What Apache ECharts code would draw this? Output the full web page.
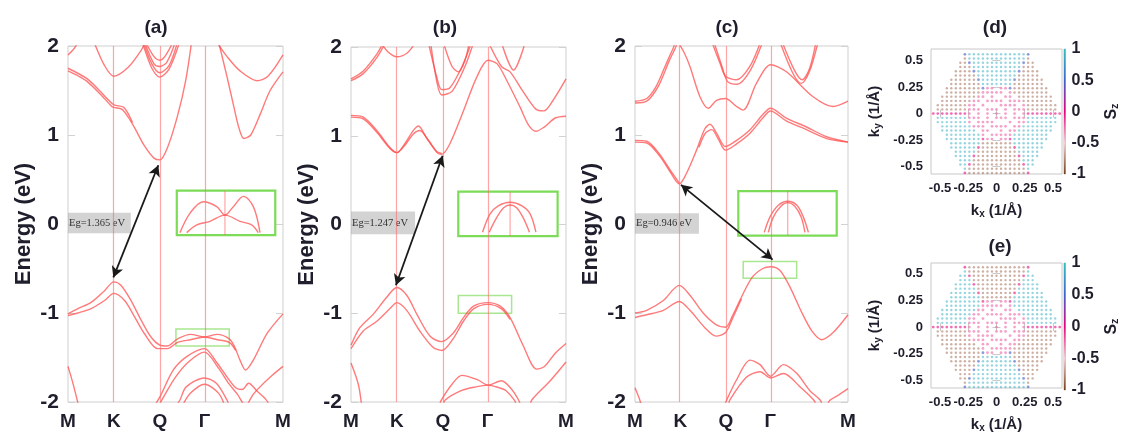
<!DOCTYPE html>
<html><head><meta charset="utf-8">
<script src="https://cdn.jsdelivr.net/npm/echarts@6/dist/echarts.min.js"></script>
<style>html,body{margin:0;padding:0;background:#fff}#c{width:1121px;height:434px}</style>
</head><body><div id="c"></div>
<script>
// ---------- data ----------
const kPos = [0, 0.213, 0.427, 0.635, 1];
const kLabels = ['M', 'K', 'Q', 'Γ', 'M'];
const panelTitles = ['(a)', '(b)', '(c)', '(d)', '(e)'];
const gapLabels = ['Eg=1.365 eV', 'Eg=1.247 eV', 'Eg=0.946 eV'];
const kTicks2D = [-0.5, -0.25, 0, 0.25, 0.5];
const szTicks = [-1, -0.5, 0, 0.5, 1];

const bandsA = [
  [[0,1.72],[0.05,1.66],[0.09,1.6],[0.154,1.45],[0.2,1.33],[0.213,1.31],[0.25,1.29],[0.28,1.2],[0.31,1.08],[0.355,0.88],[0.40,0.74],[0.427,0.72],[0.463,0.86],[0.51,1.22],[0.548,1.62],[0.575,2.05]],
  [[0,1.75],[0.09,1.63],[0.154,1.48],[0.213,1.34],[0.26,1.31],[0.30,1.14]],
  [[0.12,2.05],[0.17,1.78],[0.213,1.66],[0.28,1.76],[0.34,1.95],[0.36,2.05]],
  [[0,1.9],[0.025,1.96],[0.05,2.05]],
  [[0.36,2.05],[0.40,1.88],[0.427,1.84],[0.45,1.88],[0.49,2.05]],
  [[0.355,2.05],[0.40,1.80],[0.427,1.77],[0.46,1.82],[0.50,2.05]],
  [[0.35,2.05],[0.39,1.80],[0.427,1.70],[0.47,1.78],[0.51,2.05]],
  [[0.345,2.05],[0.39,1.75],[0.427,1.65],[0.47,1.74],[0.52,2.05]],
  [[0.70,2.05],[0.74,1.65],[0.772,1.31],[0.795,1.08],[0.818,0.96],[0.85,1.0],[0.895,1.24],[0.94,1.5],[1.0,1.71]],
  [[0.69,2.05],[0.74,1.88],[0.80,1.72],[0.88,1.61],[0.93,1.66],[1.0,1.9]],
  [[0,-1.01],[0.046,-0.95],[0.108,-0.88],[0.17,-0.75],[0.213,-0.65],[0.247,-0.69],[0.293,-0.86],[0.34,-1.08],[0.386,-1.27],[0.427,-1.36],[0.463,-1.37],[0.51,-1.29],[0.57,-1.24],[0.635,-1.27],[0.694,-1.24],[0.75,-1.29],[0.775,-1.38],[0.80,-1.53],[0.826,-1.64],[0.864,-1.52],[0.926,-1.23],[1.0,-1.01]],
  [[0,-1.03],[0.046,-1.0],[0.108,-0.95],[0.17,-0.86],[0.213,-0.78],[0.263,-0.86],[0.309,-1.04],[0.355,-1.23],[0.417,-1.40],[0.463,-1.40],[0.51,-1.33],[0.57,-1.30],[0.635,-1.27],[0.694,-1.30],[0.75,-1.33],[0.78,-1.42]],
  [[0.40,-2.05],[0.428,-1.94],[0.49,-1.64],[0.552,-1.49],[0.635,-1.40],[0.69,-1.55],[0.74,-1.72],[0.78,-1.84],[0.81,-1.86],[0.84,-1.79],[0.88,-1.88],[0.92,-1.97],[0.94,-2.05]],
  [[0.42,-2.05],[0.45,-1.92],[0.50,-1.72],[0.56,-1.55],[0.635,-1.44],[0.70,-1.62],[0.75,-1.80],[0.79,-1.92],[0.81,-2.0],[0.83,-2.05]],
  [[0.50,-2.05],[0.52,-1.98],[0.55,-1.83],[0.635,-1.73],[0.69,-1.79],[0.74,-1.98],[0.75,-2.05]],
  [[0.53,-2.05],[0.57,-1.9],[0.635,-1.80],[0.70,-1.9],[0.73,-2.05]],
  [[0,-1.60],[0.023,-1.79],[0.045,-2.0],[0.05,-2.05]],
  [[1.0,-1.60],[0.95,-1.70],[0.893,-1.83],[0.86,-1.92],[0.83,-2.05]]
];
const insetA = [
  [[0.521,-0.097],[0.567,0.12],[0.629,0.25],[0.692,0.195],[0.730,0.10],[0.769,0.195],[0.816,0.31],[0.862,0.195],[0.893,-0.097]],
  [[0.552,-0.097],[0.599,-0.01],[0.66,0.03],[0.730,0.10],[0.80,0.03],[0.854,-0.01],[0.885,-0.097]]
];

const bandsB = [
  [[0,1.23],[0.057,1.21],[0.12,1.06],[0.18,0.87],[0.213,0.81],[0.25,0.91],[0.29,1.06],[0.314,1.11],[0.35,0.98],[0.40,0.81],[0.422,0.79],[0.46,0.91],[0.523,1.28],[0.585,1.66],[0.637,1.85],[0.68,1.81],[0.725,1.62],[0.787,1.32],[0.826,1.12],[0.86,1.05],[0.9,1.10],[0.95,1.2],[1.0,1.22]],
  [[0,1.21],[0.057,1.19],[0.12,1.04],[0.18,0.86],[0.213,0.81],[0.25,0.89],[0.29,1.02],[0.32,1.06],[0.36,0.95],[0.40,0.82],[0.422,0.80]],
  [[0,1.64],[0.057,1.73],[0.12,1.92],[0.15,2.05]],
  [[0,1.62],[0.057,1.70],[0.12,1.88],[0.16,2.05]],
  [[0.14,2.05],[0.17,1.95],[0.213,1.89],[0.26,1.93],[0.30,2.05]],
  [[0.36,2.05],[0.40,1.65],[0.422,1.52],[0.46,1.54],[0.52,1.80],[0.56,2.05]],
  [[0.37,2.05],[0.40,1.60],[0.422,1.46],[0.47,1.50],[0.53,1.78],[0.57,2.05]],
  [[0.43,2.05],[0.47,1.78],[0.5,1.72],[0.53,1.85],[0.55,2.05]],
  [[0.64,2.05],[0.70,1.78],[0.74,1.72],[0.80,1.5],[0.86,1.30],[0.896,1.28],[0.94,1.40],[1.0,1.64]],
  [[0.70,2.05],[0.756,1.74],[0.81,2.05]],
  [[0,-1.36],[0.042,-1.16],[0.104,-1.01],[0.166,-0.82],[0.213,-0.71],[0.26,-0.80],[0.306,-1.01],[0.368,-1.26],[0.422,-1.32],[0.477,-1.22],[0.523,-1.05],[0.57,-0.92],[0.637,-0.88],[0.694,-0.92],[0.74,-1.05],[0.80,-1.36],[0.864,-1.63],[0.9,-1.6],[0.95,-1.45],[1.0,-1.34]],
  [[0,-1.40],[0.057,-1.2],[0.12,-1.09],[0.18,-0.95],[0.213,-0.88],[0.26,-0.97],[0.32,-1.2],[0.38,-1.38],[0.422,-1.42],[0.477,-1.28],[0.523,-1.09],[0.57,-0.95],[0.637,-0.90],[0.70,-0.95],[0.74,-1.07]],
  [[0.41,-2.05],[0.42,-1.98],[0.47,-1.80],[0.515,-1.70],[0.59,-1.75],[0.637,-1.81],[0.70,-1.76],[0.745,-1.85],[0.78,-1.98],[0.79,-2.05]],
  [[0.43,-2.05],[0.437,-1.98],[0.515,-1.87],[0.58,-1.83],[0.637,-1.81],[0.69,-1.84],[0.72,-1.87],[0.76,-1.98],[0.77,-2.05]],
  [[0,-1.56],[0.034,-1.80],[0.05,-2.05]],
  [[1.0,-1.55],[0.927,-1.76],[0.84,-1.98],[0.835,-2.05]]
];
const insetB = [
  [[0.612,-0.087],[0.647,0.12],[0.685,0.21],[0.74,0.25],[0.795,0.21],[0.833,0.12],[0.86,-0.087]],
  [[0.643,-0.087],[0.678,0.08],[0.71,0.19],[0.74,0.22],[0.77,0.19],[0.80,0.08],[0.83,-0.087]]
];

const bandsC = [
  [[0,0.92],[0.055,0.91],[0.117,0.76],[0.164,0.59],[0.208,0.45],[0.242,0.57],[0.289,0.83],[0.328,1.07],[0.352,1.12],[0.383,1.02],[0.425,0.87],[0.477,0.94],[0.54,1.06],[0.60,1.23],[0.636,1.30],[0.71,1.19],[0.805,1.09],[0.90,0.98],[1.0,0.92]],
  [[0,0.94],[0.055,0.93],[0.117,0.78],[0.164,0.61],[0.208,0.46]],
  [[0.30,0.86],[0.33,1.02],[0.36,1.06],[0.39,0.96],[0.425,0.83],[0.477,0.90],[0.54,1.02],[0.60,1.19],[0.636,1.27],[0.71,1.16],[0.805,1.06],[0.9,0.96],[1.0,0.92]],
  [[0,1.38],[0.055,1.41],[0.10,1.55],[0.148,1.81],[0.18,1.98],[0.19,2.05]],
  [[0,1.36],[0.055,1.38],[0.11,1.55],[0.16,1.83],[0.19,1.98],[0.2,2.05]],
  [[0.2,2.05],[0.23,1.93],[0.258,1.77],[0.305,1.43],[0.344,1.30],[0.383,1.39],[0.425,1.41],[0.477,1.32],[0.508,1.28],[0.57,1.58],[0.636,1.79],[0.711,1.71],[0.836,1.43],[0.93,1.32],[1.0,1.38]],
  [[0.36,2.05],[0.40,1.80],[0.425,1.66],[0.477,1.62],[0.539,1.77],[0.59,2.05]],
  [[0.37,2.05],[0.41,1.76],[0.435,1.60],[0.48,1.57],[0.54,1.72],[0.60,2.05]],
  [[0.68,2.05],[0.74,1.70],[0.78,1.58],[0.82,1.72],[0.86,2.05]],
  [[0.69,2.05],[0.75,1.72],[0.785,1.62],[0.82,1.75],[0.85,2.05]],
  [[0,-1.0],[0.055,-0.97],[0.133,-0.86],[0.208,-0.69],[0.258,-0.80],[0.32,-1.0],[0.38,-1.13],[0.425,-1.16],[0.46,-1.02],[0.50,-0.82],[0.55,-0.60],[0.60,-0.50],[0.636,-0.48],[0.68,-0.52],[0.73,-0.72],[0.78,-0.98],[0.83,-1.20],[0.877,-1.30],[0.93,-1.22],[1.0,-1.02]],
  [[0,-1.05],[0.055,-1.02],[0.133,-0.97],[0.208,-0.87],[0.258,-0.97],[0.33,-1.17],[0.38,-1.26],[0.425,-1.22],[0.46,-1.05],[0.50,-0.84]],
  [[0.42,-2.05],[0.43,-1.98],[0.477,-1.75],[0.54,-1.53],[0.587,-1.58],[0.636,-1.71],[0.697,-1.58],[0.76,-1.68],[0.82,-1.87],[0.87,-1.98],[0.88,-2.05]],
  [[0.44,-2.05],[0.445,-1.98],[0.524,-1.72],[0.587,-1.66],[0.636,-1.73],[0.697,-1.68],[0.775,-1.83],[0.84,-1.98],[0.85,-2.05]],
  [[0,-1.84],[0.023,-1.98],[0.03,-2.05]],
  [[1.0,-1.85],[0.95,-1.93],[0.915,-1.98],[0.9,-2.05]]
];
const insetC = [
  [[0.607,-0.094],[0.634,0.08],[0.673,0.21],[0.717,0.255],[0.76,0.21],[0.79,0.08],[0.814,-0.094]],
  [[0.626,-0.094],[0.65,0.08],[0.685,0.20],[0.717,0.24],[0.75,0.20],[0.78,0.08],[0.798,-0.094]]
];

const insetLineK = [0.730, 0.74, 0.717];
const bigBoxes = [[[0.506,0.374],[0.964,-0.124]], [[0.499,0.37],[0.961,-0.13]], [[0.485,0.37],[0.947,-0.13]]];
const smallBoxes = [[[0.502,-1.18],[0.75,-1.37]], [[0.499,-0.80],[0.747,-1.0]], [[0.508,-0.42],[0.759,-0.61]]];
const arrows = [[[0.211,-0.60],[0.42,0.66]], [[0.209,-0.685],[0.426,0.775]], [[0.216,0.44],[0.646,-0.40]]];
const egBoxes = [[[0,0.127],[0.292,-0.105]], [[0,0.146],[0.298,-0.11]], [[0,0.12],[0.30,-0.11]]];

// spin texture maps (rows from ky=+0.56 down to -0.56, columns kx=-0.56..0.56, step 0.04)
const meshStart = -0.56, meshStep = 0.04;
const szCode = { c: 0.9, b: -0.85, p: -0.25, u: 0.45, m: -0.05 };
const spinMapD = [
  ".......ucccccccccccccu.......",
  ".......bcccccccccccccb.......",
  "......bbucccccccccccubb......",
  "......bbbcccccccccccbbb......",
  ".....bbbbucccccccccubbbb.....",
  ".....bbbbbcccccccccbbbbb.....",
  "....bbbbbbucccccccubbbbbb....",
  "....bbbbbbbcccccccbbbbbbb....",
  "...bbbbbbbbupp.ppubbbbbbbb...",
  "...bbbbbbbbppppp.pbbbbbbbb...",
  "..bbbbbbbbpp.p..pp.bbbbbbbb..",
  "..bbbbbbbpp.pppp.pppbbbbbbb..",
  ".bbbbbbbpp.p...pppp.pbbbbbbb.",
  ".bbbbbbbppp.ppp.p.pppbbbbbbb.",
  "mmmmmmmmp.p.p.p.p.p.pmmmmmmmm",
  ".cccccccppp.p.ppp.pppccccccc.",
  ".cccccccp.pppp...p.ppccccccc.",
  "..cccccccppp.pppp.ppccccccc..",
  "..cccccccc.pp..p.ppcccccccc..",
  "...ccccccccp.pppppcccccccc...",
  "...ccccccccmpp.ppmcccccccc...",
  "....cccccccbbbbbbbccccccc....",
  "....ccccccmbbbbbbbmcccccc....",
  ".....cccccbbbbbbbbbccccc.....",
  ".....ccccmbbbbbbbbbmcccc.....",
  "......cccbbbbbbbbbbbccc......",
  "......ccmbbbbbbbbbbbmcc......",
  ".......cbbbbbbbbbbbbbc.......",
  ".......mbbbbbbbbbbbbbm......."
];
const spinMapE = [
  ".......mbbbbbbbbbbbbbm.......",
  ".......cbbbbbbbbbbbbbc.......",
  "......ccmbbbbbbbbbbbmcc......",
  "......cccbbbbbbbbbbbccc......",
  ".....ccccmbbbbbbbbbmcccc.....",
  ".....cccccbbbbbbbbbccccc.....",
  "....ccccccmbbbbbbbmcccccc....",
  "....cccccccbbbbbbbccccccc....",
  "...ccccccccmpp.ppmcccccccc...",
  "...ccccccccppppp.pcccccccc...",
  "..ccccccccpp.p..pp.cccccccc..",
  "..cccccccpp.pppp.pppccccccc..",
  ".cccccccpp.p...pppp.pccccccc.",
  ".cccccccppp.ppp.p.pppccccccc.",
  "mmmmmmmmp.p.p.p.p.p.pmmmmmmmm",
  ".bbbbbbbppp.p.ppp.pppbbbbbbb.",
  ".bbbbbbbp.pppp...p.ppbbbbbbb.",
  "..bbbbbbbppp.pppp.ppbbbbbbb..",
  "..bbbbbbbb.pp..p.ppbbbbbbbb..",
  "...bbbbbbbbp.pppppbbbbbbbb...",
  "...bbbbbbbbupp.ppubbbbbbbb...",
  "....bbbbbbbcccccccbbbbbbb....",
  "....bbbbbbucccccccubbbbbb....",
  ".....bbbbbcccccccccbbbbb.....",
  ".....bbbbucccccccccubbbb.....",
  "......bbbcccccccccccbbb......",
  "......bbucccccccccccubb......",
  ".......bcccccccccccccb.......",
  ".......ucccccccccccccu......."
];
const szColors = ['#7a3b14', '#f6d2d6', '#e5007d', '#3b63d1', '#35c2bd'];

// ---------- styling ----------
const FONT = "'Liberation Sans', Arial, Helvetica, sans-serif";
const TXT = '#1e1e2c';
const bandColor = 'rgba(255,70,70,0.72)';
const vColor = 'rgba(255,105,105,0.6)';

const bandGrids = [
  { left: 68, top: 46, width: 215, height: 356 },
  { left: 351, top: 47, width: 215, height: 355 },
  { left: 635, top: 46, width: 213, height: 356 }
];
const allBands = [bandsA, bandsB, bandsC];
const allInsets = [insetA, insetB, insetC];

const grid = [], xAxis = [], yAxis = [], series = [];

function nearestLabel(v) {
  let bi = 0, bd = 1e9;
  kPos.forEach((k, i) => { const d = Math.abs(k - v); if (d < bd) { bd = d; bi = i; } });
  return kLabels[bi];
}

for (let p = 0; p < 3; p++) {
  grid.push(Object.assign({ show: true, borderColor: '#cfcfcf', borderWidth: 1, backgroundColor: '#fff' }, bandGrids[p]));
  xAxis.push({
    gridIndex: p, type: 'value', min: 0, max: 1,
    axisLine: { show: false }, axisTick: { show: false }, splitLine: { show: false },
    axisLabel: { customValues: kPos, formatter: nearestLabel, fontSize: 19, fontWeight: 'bold', fontFamily: FONT, color: TXT, margin: 10 }
  });
  const yl = yAxis.length;
  yAxis.push({
    gridIndex: p, type: 'value', min: -2, max: 2, interval: 1, position: 'left',
    name: 'Energy (eV)', nameLocation: 'middle', nameGap: 33,
    nameTextStyle: { fontSize: 22, fontWeight: 'bold', fontFamily: FONT, color: TXT },
    axisLine: { show: false }, splitLine: { show: false },
    axisTick: { show: true, inside: true, length: 7, lineStyle: { color: '#d2d2d2' } },
    axisLabel: { fontSize: 21, fontWeight: 'bold', fontFamily: FONT, color: TXT, margin: 9 }
  });
  yAxis.push({
    gridIndex: p, type: 'value', min: -2, max: 2, interval: 1, position: 'right',
    axisLine: { show: false }, splitLine: { show: false }, axisLabel: { show: false },
    axisTick: { show: true, inside: true, length: 7, lineStyle: { color: '#d2d2d2' } }
  });
  const big = bigBoxes[p], small = smallBoxes[p], eg = egBoxes[p];
  series.push({
    type: 'line', xAxisIndex: p, yAxisIndex: yl, data: [[0.5, 0]], showSymbol: false,
    lineStyle: { opacity: 0 }, silent: true, z: 1,
    markLine: {
      silent: true, symbol: 'none', label: { show: false },
      lineStyle: { color: vColor, width: 1.2, type: 'solid' },
      data: kPos.slice(1, 4).map(k => ({ xAxis: k }))
    },
    markArea: {
      silent: true, label: { show: false },
      data: [
        [{ coord: eg[0], name: gapLabels[p], itemStyle: { color: 'rgba(150,150,150,0.42)', opacity: 1 },
           label: { show: true, position: 'insideLeft', distance: 1, fontFamily: "'Liberation Serif', 'Times New Roman', serif", fontSize: 10.5, color: '#333' } },
         { coord: eg[1] }],
        [{ coord: big[0], itemStyle: { color: 'rgba(0,0,0,0)', borderColor: '#7cdc58', borderWidth: 2.2, opacity: 1 } }, { coord: big[1] }],
        [{ coord: small[0], itemStyle: { color: 'rgba(0,0,0,0)', borderColor: '#a8e690', borderWidth: 1.5, opacity: 1 } }, { coord: small[1] }]
      ]
    }
  });
  allBands[p].forEach(b => series.push({
    type: 'line', xAxisIndex: p, yAxisIndex: yl, data: b, showSymbol: false, smooth: 0.3,
    lineStyle: { color: bandColor, width: 1.4 }, silent: true, z: 3
  }));
  allInsets[p].forEach(b => series.push({
    type: 'line', xAxisIndex: p, yAxisIndex: yl, data: b, showSymbol: false, smooth: 0.35,
    lineStyle: { color: bandColor, width: 1.4 }, silent: true, z: 3
  }));
  series.push({
    type: 'line', xAxisIndex: p, yAxisIndex: yl, data: [[insetLineK[p], big[0][1]], [insetLineK[p], big[1][1]]],
    showSymbol: false, lineStyle: { color: vColor, width: 1.2 }, silent: true, z: 2
  });
  series.push({
    type: 'line', xAxisIndex: p, yAxisIndex: yl, data: [[0.5, 0]], showSymbol: false,
    lineStyle: { opacity: 0 }, silent: true, z: 5,
    markLine: {
      silent: true, symbol: ['arrow', 'arrow'], symbolSize: [9, 11], label: { show: false },
      lineStyle: { color: '#1a1a1a', width: 1.8, type: 'solid' },
      data: [[{ coord: arrows[p][0] }, { coord: arrows[p][1] }]]
    }
  });
}

// spin texture panels
const spinGrids = [{ left: 931, top: 49, width: 131, height: 125 }, { left: 931, top: 263, width: 131, height: 127 }];
const spinY = [[-0.57, 0.61], [-0.57, 0.60]];
const spinMaps = [spinMapD, spinMapE];
const tickFont = { fontSize: 13, fontWeight: 'bold', fontFamily: FONT, color: TXT };
const richK = {
  k: { fontSize: 15, fontWeight: 'bold', fontFamily: FONT, color: TXT },
  s: { fontSize: 10, fontWeight: 'bold', fontFamily: FONT, color: TXT, padding: [7, 0, 0, 0] }
};
const scatterIdx = [];
function mapToPoints(map, codes) {
  const pts = [];
  map.forEach((row, i) => {
    for (let j = 0; j < row.length; j++) {
      if (codes.indexOf(row[j]) < 0) continue;
      pts.push([+(meshStart + meshStep * j).toFixed(3), +(-meshStart - meshStep * i).toFixed(3), szCode[row[j]]]);
    }
  });
  return pts;
}
const cbGradient = {
  type: 'linear', x: 0, y: 0, x2: 0, y2: 1,
  colorStops: szColors.slice().reverse().map((c, i) => ({ offset: i / (szColors.length - 1), color: c }))
};
for (let s = 0; s < 2; s++) {
  const gi = grid.length;
  grid.push(Object.assign({ show: true, borderColor: '#c8c8c8', borderWidth: 1 }, spinGrids[s]));
  const xi = xAxis.length;
  xAxis.push({
    gridIndex: gi, type: 'value', min: -0.58, max: 0.58,
    axisLine: { show: false }, splitLine: { show: false },
    axisTick: { show: true, inside: true, length: 4, customValues: kTicks2D, lineStyle: { color: '#c8c8c8' } },
    axisLabel: Object.assign({ customValues: kTicks2D, margin: 8 }, tickFont),
    name: '{k|k}{s|x}{k| (1/Å)}', nameLocation: 'middle', nameGap: 28, nameTextStyle: { rich: richK }
  });
  xAxis.push({
    gridIndex: gi, type: 'value', min: -0.58, max: 0.58, position: 'top',
    axisLine: { show: false }, splitLine: { show: false }, axisLabel: { show: false },
    axisTick: { show: true, inside: true, length: 4, customValues: kTicks2D, lineStyle: { color: '#c8c8c8' } }
  });
  const yi = yAxis.length;
  yAxis.push({
    gridIndex: gi, type: 'value', min: spinY[s][0], max: spinY[s][1],
    axisLine: { show: false }, splitLine: { show: false },
    axisTick: { show: true, inside: true, length: 4, customValues: kTicks2D, lineStyle: { color: '#c8c8c8' } },
    axisLabel: Object.assign({ customValues: kTicks2D, margin: 8 }, tickFont),
    name: '{k|k}{s|y}{k| (1/Å)}', nameLocation: 'middle', nameGap: 48, nameTextStyle: { rich: richK }
  });
  yAxis.push({
    gridIndex: gi, type: 'value', min: spinY[s][0], max: spinY[s][1], position: 'right',
    axisLine: { show: false }, splitLine: { show: false }, axisLabel: { show: false },
    axisTick: { show: true, inside: true, length: 4, customValues: kTicks2D, lineStyle: { color: '#c8c8c8' } }
  });
  scatterIdx.push(series.length);
  series.push({
    type: 'scatter', xAxisIndex: xi, yAxisIndex: yi, data: mapToPoints(spinMaps[s], 'cb'),
    symbolSize: 2.4, itemStyle: { opacity: 0.52 }, silent: true
  });
  scatterIdx.push(series.length);
  series.push({
    type: 'scatter', xAxisIndex: xi, yAxisIndex: yi, data: mapToPoints(spinMaps[s], 'pum'),
    symbolSize: 2.8, itemStyle: { opacity: 0.62 }, silent: true
  });
  // colorbar
  const cg = grid.length;
  grid.push({ show: true, borderColor: '#9a9a9a', borderWidth: 0.6, left: 1064, top: spinGrids[s].top, width: 6, height: spinGrids[s].height, z: 3 });
  const cx = xAxis.length;
  xAxis.push({ gridIndex: cg, type: 'value', min: 0, max: 1, show: false });
  const cy = yAxis.length;
  yAxis.push({
    gridIndex: cg, type: 'value', min: -1, max: 1, interval: 0.5, position: 'right',
    axisLine: { show: false }, splitLine: { show: false }, axisTick: { show: false },
    axisLabel: { fontSize: 16, fontWeight: 'bold', fontFamily: FONT, color: TXT, margin: 6 },
    name: '{a|S}{b|z}', nameLocation: 'middle', nameGap: 37, nameRotate: 90,
    nameTextStyle: { rich: {
      a: { fontSize: 16, fontWeight: 'bold', fontFamily: FONT, color: TXT },
      b: { fontSize: 11, fontWeight: 'bold', fontFamily: FONT, color: TXT, padding: [7, 0, 0, 0] }
    } }
  });
  series.push({
    type: 'custom', xAxisIndex: cx, yAxisIndex: cy, data: [[0, 1, -1]], silent: true, z: 4,
    renderItem: (params, api) => {
      const p0 = api.coord([0, api.value(1)]);
      const p1 = api.coord([1, api.value(2)]);
      return { type: 'rect', shape: { x: p0[0], y: p0[1], width: p1[0] - p0[0], height: p1[1] - p0[1] },
               style: { fill: cbGradient } };
    }
  });
}

const titlePos = [[156, 28], [445, 28], [727, 28], [995, 28], [1000, 247]];
const graphic = panelTitles.map((t, i) => ({
  type: 'text', x: titlePos[i][0], y: titlePos[i][1], silent: true,
  style: { text: t, font: 'bold 19px ' + FONT, fill: TXT, align: 'center', verticalAlign: 'middle' }
}));

const chart = echarts.init(document.getElementById('c'), null, { renderer: 'canvas' });
chart.setOption({
  animation: false,
  backgroundColor: '#fff',
  grid, xAxis, yAxis, series, graphic,
  visualMap: [{
    type: 'continuous', show: false, min: -1, max: 1, dimension: 2,
    seriesIndex: scatterIdx, inRange: { color: szColors }
  }]
});
</script>
</body></html>
